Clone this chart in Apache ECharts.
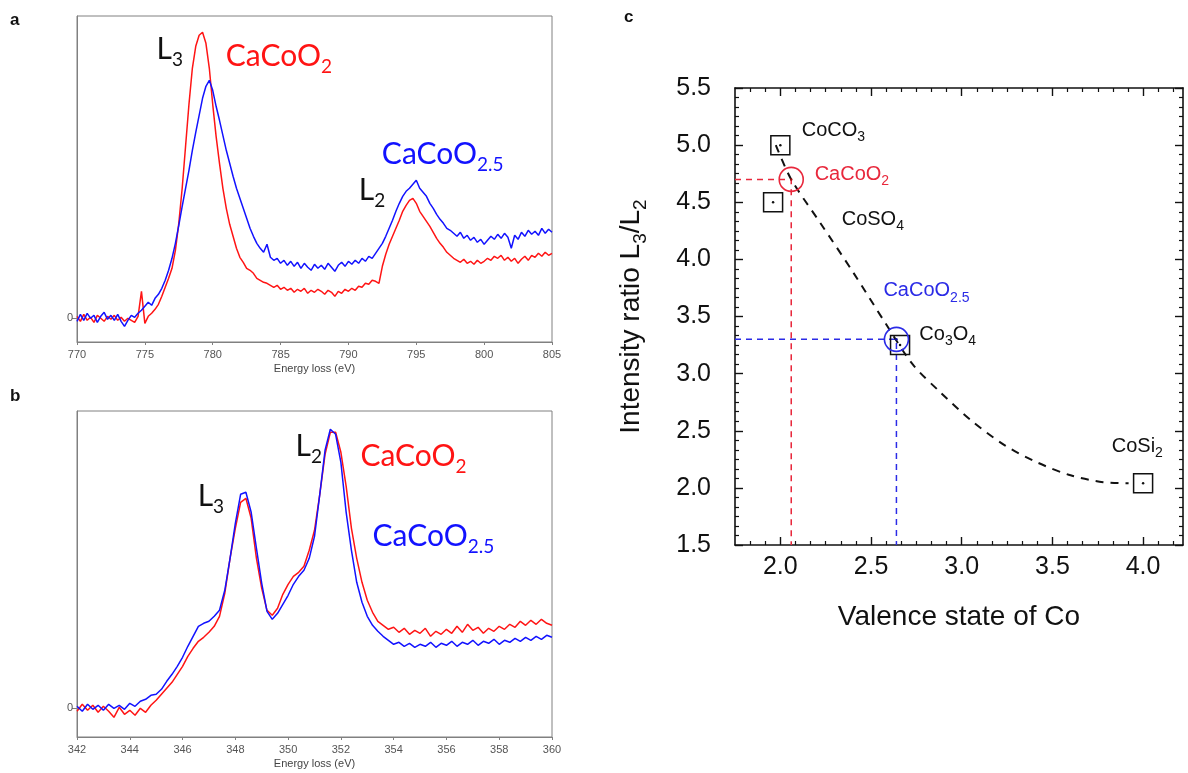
<!DOCTYPE html>
<html><head><meta charset="utf-8">
<script src="https://cdn.jsdelivr.net/npm/echarts@6/dist/echarts.min.js"></script>
<style>html,body{margin:0;padding:0;background:#fff}#c{width:1188px;height:773px}</style>
</head><body><div id="c"></div>
<script>
// ---------- Panel a: Co L2,3 edge ----------
const energyA = [770,770.25,770.5,770.75,771,771.25,771.5,771.75,772,772.25,772.5,772.75,773,773.25,773.5,773.75,774,774.25,774.5,774.75,775,775.25,775.5,775.75,776,776.25,776.5,776.75,777,777.25,777.5,777.75,778,778.25,778.5,778.75,779,779.25,779.5,779.75,780,780.25,780.5,780.75,781,781.25,781.5,781.75,782,782.25,782.5,782.75,783,783.25,783.5,783.75,784,784.25,784.5,784.75,785,785.25,785.5,785.75,786,786.25,786.5,786.75,787,787.25,787.5,787.75,788,788.25,788.5,788.75,789,789.25,789.5,789.75,790,790.25,790.5,790.75,791,791.25,791.5,791.75,792,792.25,792.5,792.75,793,793.25,793.5,793.75,794,794.25,794.5,794.75,795,795.25,795.5,795.75,796,796.25,796.5,796.75,797,797.25,797.5,797.75,798,798.25,798.5,798.75,799,799.25,799.5,799.75,800,800.25,800.5,800.75,801,801.25,801.5,801.75,802,802.25,802.5,802.75,803,803.25,803.5,803.75,804,804.25,804.5,804.75,805];
const redA = [2,-3,4,-2, 1,-4,3,0, -3,2,-1,3, -2,1,-3,0, -2,-4,2,27, -5,2,5,9, 14,22,31,40, 50,68,95,130, 172,214,250,272, 283,286,275,250, 214,182,155,130, 110,94,82,70, 61,56,50,48, 45,40,38,36, 35,33,31,33, 29,31,28,30, 26,29,27,30, 25,28,26,29, 27,24,28,26, 22,27,25,29, 27,30,28,32, 31,35,34,38, 37,35,52,64, 74,82,90,98, 107,113,118,120, 115,107,102,97, 92,86,80,75, 71,66,63,60, 58,56,59,55, 57,54,58,55, 57,60,58,62, 60,63,58,61, 57,60,55,59, 62,58,63,61, 65,62,66,63, 65];
const blueA = [-3,4,-2,5, 0,3,-4,2, 6,-1,3,-2, 4,-3,-8,-2, 3,1,5,8, 12,16,13,20, 24,30,38,48, 60,75,93,112, 130,148,168,186, 203,220,232,238, 228,212,198,183, 168,155,142,130, 120,110,100,90, 82,75,70,66, 74,61,58,60, 55,58,53,57, 52,56,50,55, 51,48,54,50, 53,49,55,51, 47,53,56,52, 57,54,58,55, 60,57,62,60, 65,70,75,82, 90,98,107,115, 122,127,130,134, 138,130,126,122, 115,110,104,99, 95,90,88,85, 82,86,80,83, 78,81,76,79, 74,78,82,79, 84,80,85,81, 70,83,79,86, 82,88,84,87, 83,90,85,89, 86];

// ---------- Panel b: Ca L2,3 edge ----------
const energyB = [342,342.2,342.4,342.6,342.8,343,343.2,343.4,343.6,343.8,344,344.2,344.4,344.6,344.8,345,345.2,345.4,345.6,345.8,346,346.2,346.4,346.6,346.8,347,347.2,347.4,347.6,347.8,348,348.2,348.4,348.6,348.8,349,349.2,349.4,349.6,349.8,350,350.2,350.4,350.6,350.8,351,351.2,351.4,351.6,351.8,352,352.2,352.4,352.6,352.8,353,353.2,353.4,353.6,353.8,354,354.2,354.4,354.6,354.8,355,355.2,355.4,355.6,355.8,356,356.2,356.4,356.6,356.8,357,357.2,357.4,357.6,357.8,358,358.2,358.4,358.6,358.8,359,359.2,359.4,359.6,359.8,360];
const redB = [-3,4,-2,3,-4,2,-3,-9,1,-6, -2,-7,0,-4,3,8,14,20,26,34, 42,52,60,67,71,76,82,92,115,150, 180,206,210,190,150,120,98,93,100,114, 124,132,136,142,158,178,214,254,276,276, 256,222,180,150,126,108,96,87,83,79, 81,76,80,74,78,75,80,72,77,74, 79,75,82,76,84,78,81,75,80,77, 82,79,84,81,87,83,88,84,89,85,83];
const blueB = [2,-3,4,-1,3,-2,4,0,3,-1, 5,2,7,9,13,14,19,27,34,42, 51,62,72,82,85,87,92,98,118,150, 185,214,216,196,160,125,97,89,95,104, 113,124,132,138,150,172,214,258,279,274, 246,196,158,126,106,92,83,77,72,68, 64,66,62,65,61,64,62,66,61,65, 63,67,62,66,64,68,63,67,65,69, 64,68,66,70,67,71,68,72,69,73,71];

// ---------- Panel c: L3/L2 ratio vs valence ----------
const refNames = ['CoCO3','CoSO4','Co3O4','CoSi2'];
const refValence = [2.0, 1.96, 2.66, 4.0];
const refRatio = [5.0, 4.5, 3.25, 2.04];
const sampleNames = ['CaCoO2','CaCoO2.5'];
const sampleValence = [2.06, 2.64];
const sampleRatio = [4.70, 3.30];
const trendValence = [1.975, 2.06, 2.22, 2.40, 2.58, 2.73, 2.88, 3.06, 3.24, 3.42, 3.60, 3.78, 3.92];
const trendRatio = [5.0, 4.70, 4.32, 3.89, 3.44, 3.08, 2.84, 2.58, 2.37, 2.22, 2.11, 2.05, 2.04];
const valenceTicks = [2.0, 2.5, 3.0, 3.5, 4.0];

// ---------- styling / layout ----------
const RED = '#ff1414', BLUE = '#1212ff';
const RED_C = '#e8283c', BLUE_C = '#2b2be6';
const XMIN_C = 1.75, XMAX_C = 4.22, YMIN_C = 1.5, YMAX_C = 5.5;
const minorValence = [];
for (let k = Math.ceil(XMIN_C * 12) + 1; k <= Math.floor(XMAX_C * 12); k++) { if (k % 6 !== 0) minorValence.push(k / 12); }

function richSet(color, F, sub, family) {
  return {
    m: {fontSize: F, lineHeight: Math.round(F * 1.15), color: color, fontFamily: family, verticalAlign: 'middle'},
    s: {fontSize: sub, lineHeight: Math.round(F * 1.15), color: color, fontFamily: family, verticalAlign: 'middle', padding: [Math.round(F * 0.7), 0, 0, 0]}
  };
}
function annot(list, xi, yi, F, sub, family) {
  return {
    type: 'scatter', xAxisIndex: xi, yAxisIndex: yi, symbolSize: 1, silent: true, z: 20,
    itemStyle: {color: 'rgba(0,0,0,0)', opacity: 1},
    data: list.map(a => ({
      value: [a[1], a[2]],
      label: {show: true, formatter: a[0], position: [0, 0], align: 'left', verticalAlign: 'middle', opacity: 1,
              rich: richSet(a[3], F, sub, family)}
    }))
  };
}
// [rich text, x, y, colour]  — annotation anchors in data coordinates
const labelsA = [['{m|L}{s|3}', 775.9, 268, '#111'], ['{m|CaCoO}{s|2}', 781.0, 261, RED],
                 ['{m|L}{s|2}', 790.8, 127, '#111'], ['{m|CaCoO}{s|2.5}', 792.5, 163, BLUE]];
const labelsB = [['{m|L}{s|3}', 346.59, 211, '#111'], ['{m|L}{s|2}', 350.3, 261, '#111'],
                 ['{m|CaCoO}{s|2}', 352.76, 251, RED], ['{m|CaCoO}{s|2.5}', 353.22, 171, BLUE]];
const labelsC = [['{m|CoCO}{s|3}', 2.121, 5.124, '#111'], ['{m|CaCoO}{s|2}', 2.192, 4.739, RED_C],
                 ['{m|CoSO}{s|4}', 2.341, 4.345, '#111'], ['{m|CaCoO}{s|2.5}', 2.571, 3.72, BLUE_C],
                 ['{m|Co}{s|3}{m|O}{s|4}', 2.769, 3.338, '#111'], ['{m|CoSi}{s|2}', 3.83, 2.36, '#111']];

const SANS = 'Liberation Sans, Arial, sans-serif';
function specX(gi, min, max, interval) {
  return {type: 'value', gridIndex: gi, min: min, max: max, interval: interval,
    name: 'Energy loss (eV)', nameLocation: 'middle', nameGap: 21,
    nameTextStyle: {fontSize: 11, color: '#444', fontFamily: SANS},
    axisLine: {show: true, onZero: false, lineStyle: {color: '#808080'}},
    axisTick: {show: true, length: 3, lineStyle: {color: '#808080'}},
    axisLabel: {fontSize: 11, color: '#555', fontFamily: SANS, margin: 7},
    splitLine: {show: false}};
}
function specY(gi, min, max) {
  return {type: 'value', gridIndex: gi, min: min, max: max,
    axisLine: {show: true, onZero: false, lineStyle: {color: '#808080'}},
    axisTick: {show: true, length: 5, customValues: [0], lineStyle: {color: '#808080'}},
    axisLabel: {show: true, customValues: [0], fontSize: 11, color: '#555', fontFamily: SANS, margin: 4},
    splitLine: {show: false}};
}
const blackLine = {show: true, onZero: false, lineStyle: {color: '#111', width: 1.6}};
const tickMajor = {show: true, inside: true, length: 8, lineStyle: {color: '#111', width: 1.4}};
const tickMinor = {show: true, inside: true, length: 4, lineStyle: {color: '#111', width: 1.2}};
function cX(position, labels, minor) {
  return {type: 'value', gridIndex: 2, min: XMIN_C, max: XMAX_C, position: position,
    name: (labels ? 'Valence state of Co' : ''), nameLocation: 'middle', nameGap: 58,
    nameTextStyle: {fontSize: 28, color: '#111', fontFamily: SANS},
    axisLine: minor ? {show: false} : blackLine,
    axisTick: Object.assign({}, minor ? tickMinor : tickMajor, {customValues: minor ? minorValence : valenceTicks}),
    axisLabel: {show: labels, customValues: valenceTicks, fontSize: 25, color: '#111', fontFamily: SANS, margin: 10,
                formatter: v => v.toFixed(1)},
    splitLine: {show: false}};
}
function cY(position, labels) {
  return {type: 'value', gridIndex: 2, min: YMIN_C, max: YMAX_C, interval: 0.5, position: position,
    name: (labels ? '{m|Intensity ratio L}{s|3}{m|/L}{s|2}' : ''), nameLocation: 'middle', nameGap: 88,
    nameTextStyle: {fontSize: 28, color: '#111', fontFamily: SANS, rich: richSet('#111', 28, 19, SANS)},
    axisLine: blackLine, axisTick: tickMajor,
    minorTick: {show: true, splitNumber: 6, length: 4, lineStyle: {color: '#111', width: 1.2}},
    axisLabel: {show: labels, fontSize: 25, color: '#111', fontFamily: SANS, margin: 24, formatter: v => v.toFixed(1)},
    splitLine: {show: false}};
}
function spec(x, y, color, xi, yi) {
  return {type: 'line', xAxisIndex: xi, yAxisIndex: yi, showSymbol: false, symbol: 'none', silent: true,
    lineStyle: {color: color, width: 1.5}, data: x.map((e, i) => [e, y[i]])};
}

const chart = echarts.init(document.getElementById('c'), null, {renderer: 'canvas'});
chart.setOption({
  animation: false,
  backgroundColor: '#fff',
  grid: [
    {left: 77, top: 16, width: 475, height: 326, show: true, borderColor: '#808080', borderWidth: 1},
    {left: 77, top: 411, width: 475, height: 326, show: true, borderColor: '#808080', borderWidth: 1},
    {left: 735, top: 88, width: 448, height: 457}
  ],
  xAxis: [specX(0, 770, 805, 5), specX(1, 342, 360, 2),
          cX('bottom', true, false), cX('bottom', false, true), cX('top', false, false), cX('top', false, true)],
  yAxis: [specY(0, -23.7, 302.3), specY(1, -28.7, 297.3), cY('left', true), cY('right', false)],
  graphic: [
    {type: 'text', left: 10, top: 12, style: {text: 'a', font: 'bold 17px Liberation Sans, Arial', fill: '#111'}},
    {type: 'text', left: 10, top: 388, style: {text: 'b', font: 'bold 17px Liberation Sans, Arial', fill: '#111'}},
    {type: 'text', left: 624, top: 9, style: {text: 'c', font: 'bold 17px Liberation Sans, Arial', fill: '#111'}}
  ],
  series: [
    spec(energyA, redA, RED, 0, 0), spec(energyA, blueA, BLUE, 0, 0),
    spec(energyB, redB, RED, 1, 1), spec(energyB, blueB, BLUE, 1, 1),
    annot(labelsA, 0, 0, 30, 19, 'Lato'), annot(labelsB, 1, 1, 30, 19, 'Lato'),
    // panel c guides
    {type: 'line', xAxisIndex: 2, yAxisIndex: 2, symbol: 'none', silent: true, z: 3,
     lineStyle: {color: RED_C, width: 1.5, type: [6, 5]},
     data: [[XMIN_C, sampleRatio[0]], [sampleValence[0], sampleRatio[0]], [sampleValence[0], YMIN_C]]},
    {type: 'line', xAxisIndex: 2, yAxisIndex: 2, symbol: 'none', silent: true, z: 3,
     lineStyle: {color: BLUE_C, width: 1.5, type: [6, 5]},
     data: [[XMIN_C, sampleRatio[1]], [sampleValence[1], sampleRatio[1]], [sampleValence[1], YMIN_C]]},
    // trend
    {type: 'line', xAxisIndex: 2, yAxisIndex: 2, symbol: 'none', silent: true, smooth: 0.3, z: 4,
     lineStyle: {color: '#111', width: 2, type: [8, 7]},
     data: trendValence.map((v, i) => [v, trendRatio[i]])},
    // reference squares
    {type: 'scatter', xAxisIndex: 2, yAxisIndex: 2, symbol: 'rect', symbolSize: 19, silent: true, z: 5,
     itemStyle: {color: 'rgba(0,0,0,0)', borderColor: '#111', borderWidth: 1.5, opacity: 1},
     data: refValence.map((v, i) => ({name: refNames[i], value: [v, refRatio[i]]}))},
    {type: 'scatter', xAxisIndex: 2, yAxisIndex: 2, symbol: 'circle', symbolSize: 2.5, silent: true, z: 6,
     itemStyle: {color: '#111', opacity: 1}, data: refValence.map((v, i) => [v, refRatio[i]])},
    // sample circles
    {type: 'scatter', xAxisIndex: 2, yAxisIndex: 2, symbol: 'circle', symbolSize: 24, silent: true, z: 6,
     data: sampleValence.map((v, i) => ({name: sampleNames[i], value: [v, sampleRatio[i]],
       itemStyle: {color: 'rgba(0,0,0,0)', borderColor: i === 0 ? RED_C : BLUE_C, borderWidth: 1.6, opacity: 1}}))},
    {type: 'scatter', xAxisIndex: 2, yAxisIndex: 2, symbol: 'circle', symbolSize: 2.5, silent: true, z: 7,
     data: sampleValence.map((v, i) => ({value: [v, sampleRatio[i]], itemStyle: {color: i === 0 ? '#a01010' : '#1010a0', opacity: 1}}))},
    annot(labelsC, 2, 2, 20, 14, SANS)
  ]
});
</script></body></html>
